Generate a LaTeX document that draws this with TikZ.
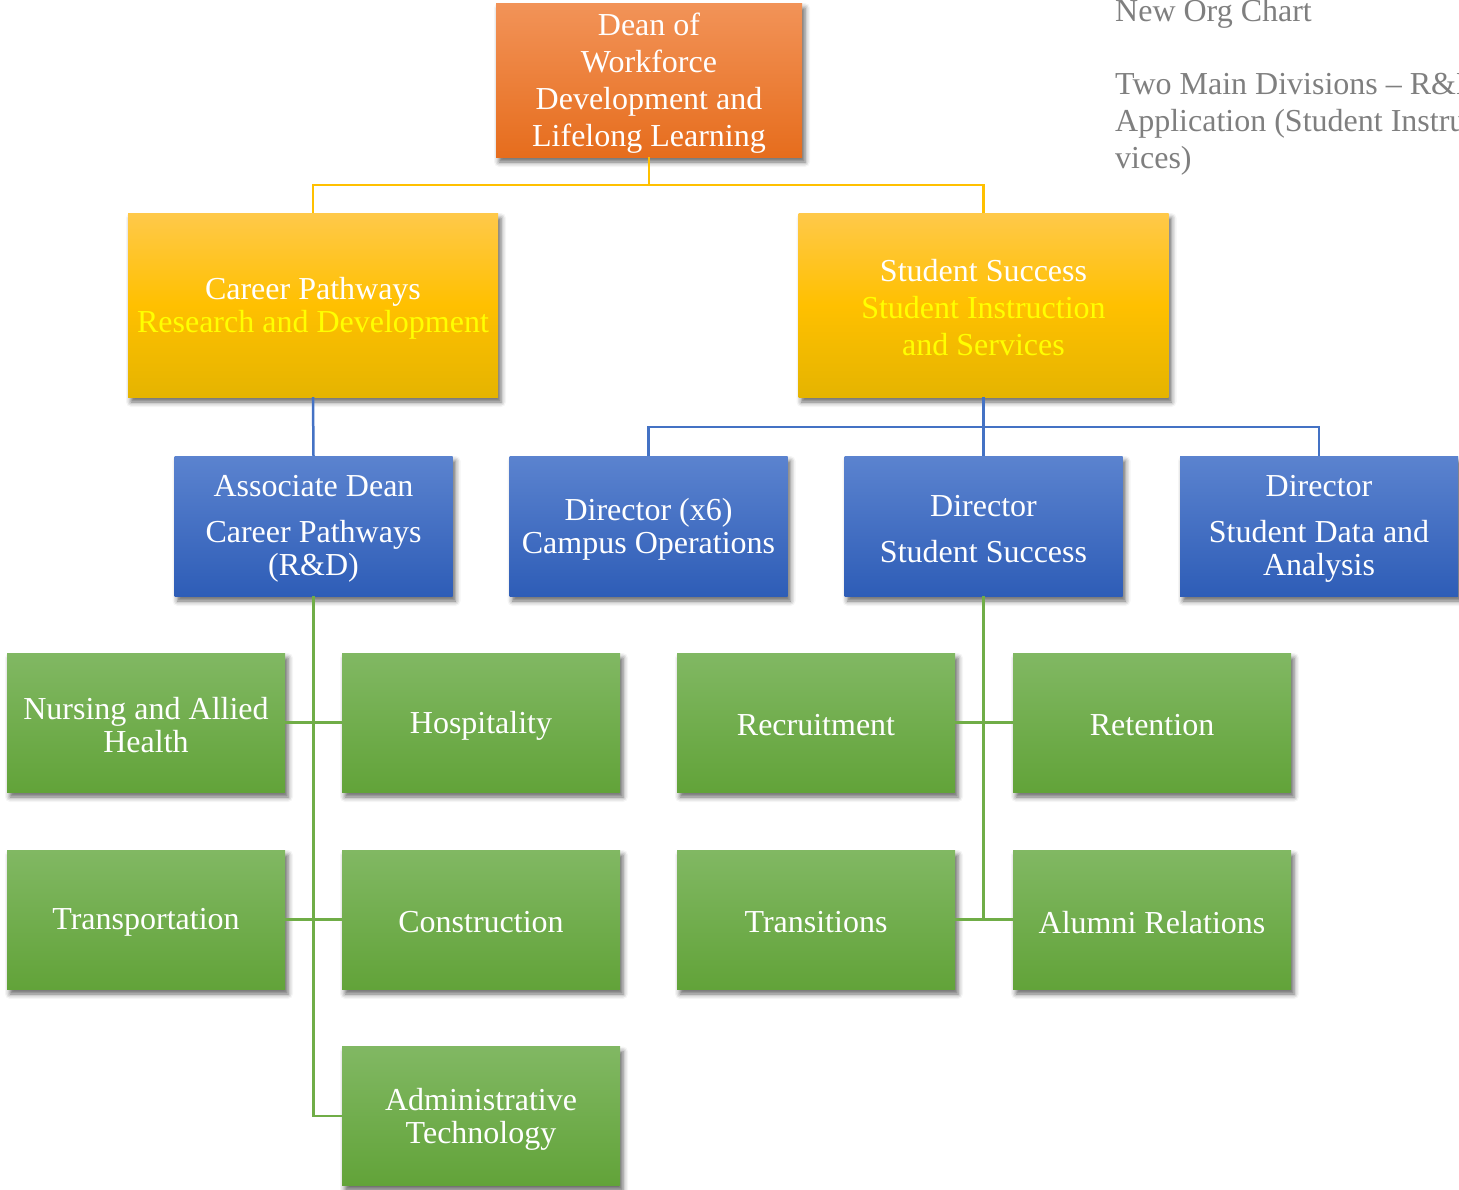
\documentclass[tikz,border=0pt]{standalone}
\usepackage{fontspec}
\setmainfont{Liberation Serif}
\usetikzlibrary{shadows.blur}

\definecolor{orangetop}{HTML}{F29358}
\definecolor{orangebot}{HTML}{E66D1D}
\definecolor{yellowtop}{HTML}{FFC94A}
\definecolor{yellowmid}{HTML}{FFC000}
\definecolor{yellowbot}{HTML}{E5B400}
\definecolor{bluetop}{HTML}{5B83CF}
\definecolor{bluebot}{HTML}{2E5DB7}
\definecolor{greentop}{HTML}{81B863}
\definecolor{greenbot}{HTML}{62A339}
\definecolor{yellowline}{HTML}{FFC000}
\definecolor{blueline}{HTML}{4472C4}
\definecolor{greenline}{HTML}{70AD47}
\definecolor{hilite}{HTML}{FFFF00}
\definecolor{notegray}{HTML}{7F7F7F}

\tikzset{
  orgbox/.style={rectangle, inner sep=0pt,
    blur shadow={shadow xshift=3pt, shadow yshift=-5pt, shadow blur radius=5pt, shadow opacity=60}},
  deanbox/.style={orgbox, top color=orangetop, bottom color=orangebot,
    minimum width=306pt, minimum height=154pt},
  divbox/.style={orgbox, top color=yellowtop, bottom color=yellowbot, middle color=yellowmid,
    minimum width=370pt, minimum height=184pt},
  leadbox/.style={orgbox, top color=bluetop, bottom color=bluebot,
    minimum width=278pt, minimum height=140pt},
  unitbox/.style={orgbox, top color=greentop, bottom color=greenbot,
    minimum width=278pt, minimum height=139pt},
  boxtext/.style={inner sep=0pt, align=center, text=white, font=\fontsize{32}{33}\selectfont},
  widelines/.style={font=\fontsize{32}{37}\selectfont},
  link/.style={line width=2.5pt},
  note/.style={anchor=base west, inner sep=0pt, text=notegray, font=\fontsize{32}{37}\selectfont}
}

% a shaded box with its caption set slightly below centre
% #1 box style, #2 name, #3 centre, #4 extra text options, #5 caption
\newcommand\orgnode[5]{%
  \node[#1] (#2) at (#3) {};
  \node[boxtext,#4] (#2-text) at ([yshift=-3pt]#2.center) {#5};
}

\begin{document}
\begin{tikzpicture}[x=1pt,y=-1pt]
\useasboundingbox (0,0) rectangle (1459,1189);

% top level
\orgnode{deanbox}{dean}{649,80}{widelines}{Dean of\\Workforce\\Development and\\Lifelong Learning}

% divisions
\orgnode{divbox}{cp}{313,305}{}{Career Pathways\\\textcolor{hilite}{Research and Development}}
\orgnode{divbox}{ss}{983.5,305}{widelines}{Student Success\\\textcolor{hilite}{Student Instruction}\\\textcolor{hilite}{and Services}}

% leads
\orgnode{leadbox}{ad}{313.5,526}{}{Associate Dean\\[13pt]Career Pathways\\(R\&D)}
\orgnode{leadbox}{d6}{648.5,526}{}{Director (x6)\\Campus Operations}
\orgnode{leadbox}{dss}{983.5,526}{}{Director\\[13pt]Student Success}
\orgnode{leadbox}{dd}{1319,526}{}{Director\\[13pt]Student Data and\\Analysis}

% career pathway units
\orgnode{unitbox}{nurse}{146,722.5}{}{Nursing and Allied\\Health}
\orgnode{unitbox}{hosp}{481,722.5}{}{Hospitality}
\orgnode{unitbox}{trans}{146,919.5}{}{Transportation}
\orgnode{unitbox}{cons}{481,919.5}{}{Construction}
\orgnode{unitbox}{admin}{481,1116}{}{Administrative\\Technology}

% student success units
\orgnode{unitbox}{recr}{816,722.5}{}{Recruitment}
\orgnode{unitbox}{ret}{1152,722.5}{}{Retention}
\orgnode{unitbox}{transit}{816,919.5}{}{Transitions}
\orgnode{unitbox}{alum}{1152,919.5}{}{Alumni Relations}

% connectors
\draw[link, yellowline] (dean.south) -- ++(0,28) -| (cp.north);
\draw[link, yellowline] (dean.south) -- ++(0,28) -| (ss.north);

\draw[link, blueline] (cp.south) -- (ad.north);
\draw[link, blueline] (ss.south) -- (dss.north);
\draw[link, blueline] (ss.south) -- ++(0,30) -| (d6.north);
\draw[link, blueline] (ss.south) -- ++(0,30) -| (dd.north);

\draw[link, greenline] (ad.south) |- (nurse.east);
\draw[link, greenline] (ad.south) |- (hosp.west);
\draw[link, greenline] (ad.south) |- (trans.east);
\draw[link, greenline] (ad.south) |- (cons.west);
\draw[link, greenline] (ad.south) |- (admin.west);

\draw[link, greenline] (dss.south) |- (recr.east);
\draw[link, greenline] (dss.south) |- (ret.west);
\draw[link, greenline] (dss.south) |- (transit.east);
\draw[link, greenline] (dss.south) |- (alum.west);

% side note, running off the right edge of the page
\node[note] (n1) at (1115,21) {New Org Chart};
\node[note] (n2) at (1115,94) {Two Main Divisions – R\&D and};
\node[note] (n3) at (1115,131) {Application (Student Instruction and Ser-};
\node[note] (n4) at (1115,168) {vices)};
\end{tikzpicture}
\end{document}
